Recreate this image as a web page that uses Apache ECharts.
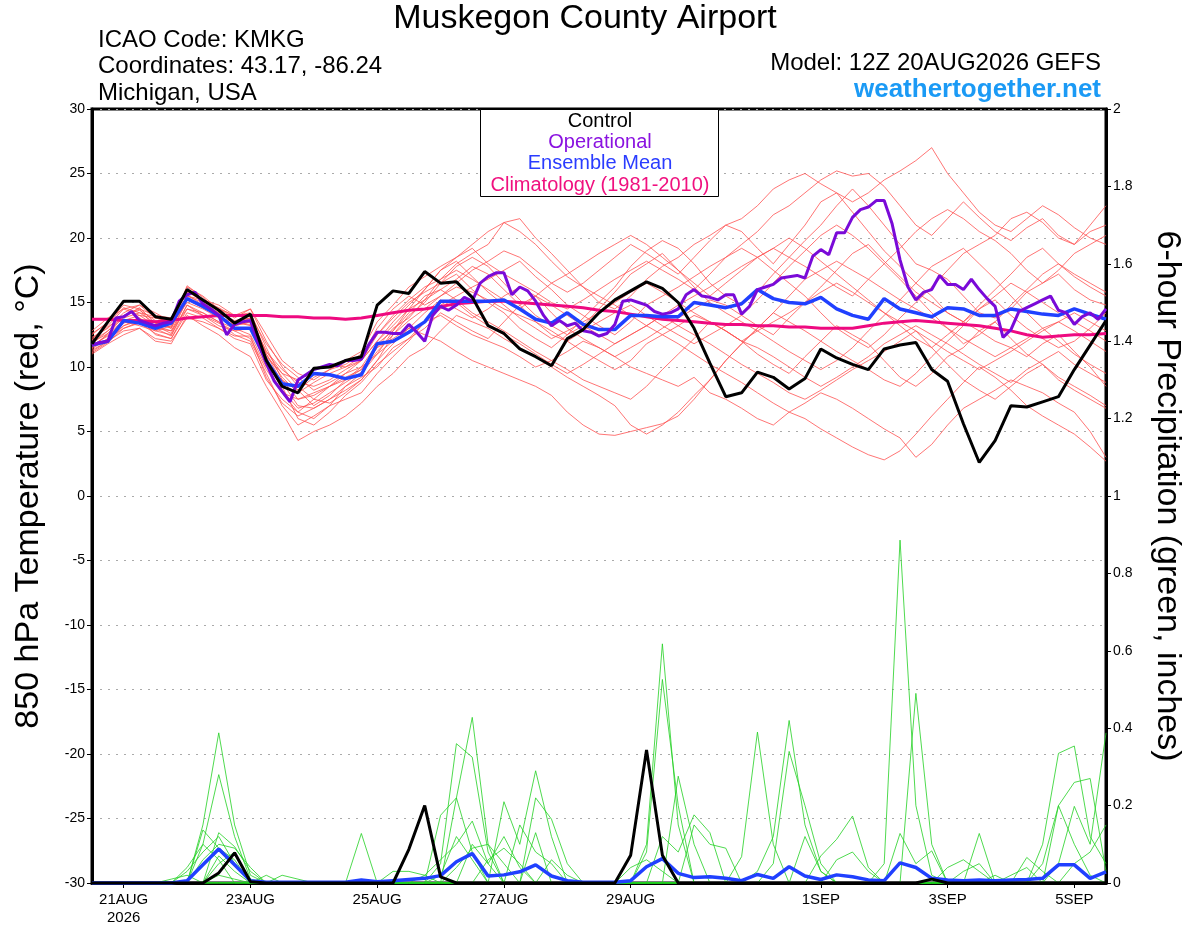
<!DOCTYPE html>
<html>
<head>
<meta charset="utf-8">
<title>Muskegon County Airport</title>
<script src="https://cdn.jsdelivr.net/npm/echarts@6.0.0/dist/echarts.min.js"></script>
<style>
  html, body { margin: 0; padding: 0; background: #fff; }
  #main { width: 1200px; height: 927px; }
</style>
</head>
<body>
<div id="main"></div>
<script>
// hours after 12Z 20AUG2026, one value every 6 h (operational every 3 h)
var tickHours = [12, 60, 108, 156, 204, 276, 324, 372];
var tickLabels = ['21AUG\n2026', '23AUG', '25AUG', '27AUG', '29AUG', '1SEP', '3SEP', '5SEP'];

// 850 hPa temperature, deg C
var controlTemp = [11.8,13.5,15.1,15.1,13.9,13.7,16.0,15.2,14.4,13.4,14.1,10.5,8.5,8.0,9.9,10.0,10.5,10.8,14.8,15.9,
  15.7,17.4,16.5,16.6,15.4,13.2,12.6,11.4,10.8,10.1,12.2,12.9,14.2,15.2,15.9,16.6,16.1,15.0,13.0,10.3,
  7.7,8.0,9.6,9.2,8.3,9.1,11.4,10.7,10.2,9.8,11.4,11.7,11.9,9.8,8.9,5.6,2.6,4.3,7.0,6.9,7.3,7.7,9.8,11.7,13.6];
var meanTemp = [11.7,12.0,13.6,13.4,13.0,13.4,15.3,14.7,14.0,13.0,13.0,10.5,8.7,8.5,9.5,9.4,9.1,9.4,11.8,12.0,
  12.7,13.5,15.1,15.1,15.1,15.1,15.2,14.5,13.7,13.4,14.2,13.3,12.9,12.9,14.0,14.0,13.9,13.9,15.0,14.8,
  14.6,14.9,16.0,15.3,15.0,14.9,15.4,14.5,14.0,13.7,15.3,14.5,14.2,13.9,14.6,14.5,14.0,14.0,14.5,14.3,14.1,14.0,14.5,14.1,13.7];
var climTemp = [13.7,13.7,13.6,13.6,13.5,13.6,13.8,13.9,14.0,14.0,14.0,14.0,13.9,13.9,13.8,13.8,13.7,13.8,14.0,14.2,
  14.4,14.5,14.7,14.9,15.0,15.1,15.1,15.0,14.9,14.8,14.7,14.6,14.4,14.3,14.1,13.9,13.7,13.6,13.5,13.4,
  13.3,13.3,13.2,13.2,13.1,13.1,13.0,13.0,13.0,13.2,13.4,13.5,13.6,13.5,13.4,13.3,13.2,13.0,12.8,12.5,12.3,12.4,12.5,12.5,12.6];
// operational run, 3-hourly
var operTemp = [11.7,11.9,12.0,13.8,13.9,14.3,13.6,13.4,13.2,13.4,13.5,15.1,15.6,15.8,14.9,14.5,14.0,12.5,13.3,13.5,
  13.6,11.8,10.3,8.9,8.1,7.3,9.0,9.4,9.8,10.0,10.2,10.1,10.5,10.5,10.6,11.8,12.7,12.7,12.6,12.6,
  13.3,12.7,12.0,14.0,14.7,14.4,14.8,15.4,15.1,16.5,17.0,17.3,17.3,15.6,16.2,15.9,15.1,14.0,13.2,13.6,
  13.2,13.4,12.8,12.7,12.4,12.6,13.3,15.1,15.2,15.0,14.8,14.3,14.1,14.2,14.5,15.6,16.0,15.5,15.4,15.2,
  15.6,15.6,14.1,14.7,16.0,16.2,16.4,16.9,17.0,17.1,16.9,18.6,19.1,18.7,20.4,20.4,21.6,22.2,22.4,22.9,
  22.9,21.1,18.3,16.2,15.2,15.8,16.0,17.1,16.4,16.4,16.0,16.8,16.0,15.3,14.7,12.3,12.9,14.3,14.6,14.9,
  15.2,15.5,14.4,14.2,13.3,13.9,14.2,13.7,14.5];

// ensemble members, temperature
var memberTemp = [
  [11.8,12.8,13.8,14.2,13.4,13.0,15.6,14.8,14.0,13.2,13.5,11.0,9.2,8.0,8.8,9.5,10.0,10.5,12.0,13.5,14.8,16.0,17.5,18.5,19.2,
   18.0,17.2,16.5,15.8,15.0,14.5,15.2,16.0,16.8,17.5,18.2,17.5,16.8,16.0,17.2,18.5,
   19.5,20.5,21.8,22.5,23.5,24.5,25.2,24.8,25.0,24.0,22.5,21.0,20.2,21.5,22.8,21.6,20.5,19.8,20.8,21.5,20.2,19.5,20.5,21.0],
  [11.5,12.2,13.0,13.5,12.8,12.5,14.8,14.2,13.5,12.5,12.0,9.5,7.0,5.5,6.2,7.0,7.5,8.0,9.5,10.8,12.0,13.5,14.0,13.2,12.5,
   12.0,11.5,10.8,10.0,10.5,11.2,12.0,11.5,10.8,10.0,9.5,9.0,8.5,9.2,8.0,7.5,
   6.8,6.0,5.5,6.5,7.2,8.0,7.5,6.8,6.0,5.2,4.5,3.0,4.0,5.5,6.8,7.5,8.2,9.0,8.5,8.0,7.2,6.5,5.0,3.0],
  [12.2,13.2,14.5,14.0,13.8,13.5,16.2,15.5,14.5,13.8,14.5,12.0,10.0,8.5,7.5,7.2,8.0,9.0,10.5,12.5,14.0,15.0,16.5,17.2,16.0,
   15.0,14.2,13.0,12.2,11.5,12.5,13.8,15.0,16.2,17.8,19.0,19.8,19.2,18.0,16.5,15.5,
   14.8,15.8,17.2,18.5,19.8,21.0,22.5,23.8,22.5,21.0,19.5,18.0,17.5,16.8,15.5,14.2,13.8,14.5,15.8,16.5,17.2,16.0,15.2,14.8],
  [11.2,12.0,13.2,13.8,12.5,12.2,14.5,14.0,13.2,12.8,13.0,10.8,9.5,9.0,9.8,10.2,10.0,10.8,13.0,14.5,15.5,14.8,15.5,16.2,15.8,
   15.2,14.5,14.0,13.5,12.8,12.0,11.2,10.5,9.8,10.5,11.8,12.5,13.2,14.0,13.5,12.8,
   12.0,11.0,10.2,9.5,10.8,12.0,13.2,12.5,11.8,10.5,9.2,8.5,9.5,10.8,11.5,12.8,13.5,12.2,11.0,10.2,9.0,8.2,7.5,6.8],
  [11.0,11.8,12.5,13.0,12.0,11.8,14.0,13.2,12.5,11.5,10.8,8.5,6.5,4.3,5.0,5.5,6.2,7.2,8.5,9.5,10.8,11.5,12.8,14.0,13.5,
   13.0,12.2,11.5,10.8,10.0,9.2,8.5,7.8,7.0,5.5,4.8,5.5,6.5,7.8,9.0,10.5,
   11.8,13.0,14.2,13.5,12.8,12.0,11.2,10.5,9.8,9.0,8.5,9.5,10.8,12.0,13.2,14.5,15.2,14.0,13.0,12.2,11.5,12.0,13.0,14.2],
  [12.5,13.5,14.8,14.5,14.0,13.8,16.0,15.2,14.8,14.0,14.2,11.5,9.0,7.5,7.8,8.5,9.2,9.8,11.5,13.0,13.8,15.2,16.8,18.0,18.8,
   19.5,21.2,21.5,20.0,18.8,17.5,16.2,15.0,14.5,15.5,16.8,17.8,18.5,19.5,20.2,21.0,
   20.5,19.2,18.0,19.5,21.0,22.8,23.5,22.0,20.5,19.0,17.8,16.5,15.5,14.2,13.5,12.8,12.0,11.5,10.8,11.8,12.5,11.2,10.0,8.5],
  [11.6,12.5,13.5,13.2,12.8,13.2,15.0,14.5,13.8,13.5,13.8,11.0,8.8,7.0,6.8,7.5,8.5,9.5,11.0,12.0,12.8,13.5,14.8,15.5,16.2,
   16.8,17.5,18.2,17.0,16.0,14.8,14.0,13.2,12.5,13.5,14.8,15.5,16.2,17.0,17.8,18.5,
   19.2,18.5,17.5,16.5,15.5,14.2,13.0,12.2,11.5,12.5,13.8,15.0,16.2,17.5,18.8,19.5,20.2,21.5,22.0,21.2,20.0,19.5,21.0,22.5],
  [12.0,12.8,14.0,14.5,13.0,12.8,15.2,14.8,14.2,13.5,13.2,10.5,8.5,6.0,5.5,6.5,7.8,8.8,10.2,11.2,12.2,13.0,14.2,13.5,12.8,
   12.2,13.5,14.8,15.5,14.2,13.0,12.2,11.5,10.8,11.5,12.2,13.0,13.8,14.5,15.2,14.8,
   14.0,13.2,12.5,13.8,15.0,16.2,17.5,18.8,19.5,18.2,17.0,15.8,15.0,14.2,13.5,14.8,16.0,17.2,18.5,19.2,18.0,17.0,16.2,15.5],
  [11.4,12.2,13.2,13.6,13.2,12.8,14.5,14.2,13.5,13.0,12.5,10.0,9.0,8.2,9.2,9.8,10.2,11.0,12.5,13.8,15.0,15.8,16.5,17.8,18.5,
   17.8,16.5,15.2,14.0,13.2,12.5,13.2,14.5,15.8,17.2,18.0,18.8,17.5,16.2,15.0,14.2,
   13.5,12.8,12.0,11.2,10.5,9.8,10.5,11.5,12.8,14.0,15.2,16.5,17.8,18.5,19.2,18.0,16.8,15.5,14.2,13.0,12.0,11.0,10.2,9.5],
  [12.8,13.8,14.5,14.8,14.2,13.5,15.5,15.2,14.5,13.2,13.8,11.2,9.5,8.2,7.0,7.8,9.0,10.0,11.8,12.8,14.2,15.5,16.0,15.2,14.2,
   13.5,12.8,12.0,11.2,10.5,9.8,9.0,8.5,8.0,7.5,8.5,9.8,11.0,12.2,13.5,12.8,
   12.0,11.5,10.8,10.0,9.2,8.5,9.2,10.0,10.8,11.8,12.5,13.2,12.5,11.8,11.0,10.2,9.5,8.8,9.8,10.5,11.2,10.2,9.5,8.8],
  [11.9,12.6,13.6,14.0,13.2,12.6,15.2,14.6,14.0,13.2,13.5,10.8,8.2,6.8,7.2,8.0,8.8,9.6,11.2,12.5,13.6,14.5,15.5,16.5,17.5,
   18.2,19.0,18.5,17.5,16.5,15.8,16.5,17.5,18.5,19.5,18.8,18.0,17.2,18.5,19.8,21.0,
   21.5,22.5,23.8,24.5,25.0,24.2,23.5,22.8,23.5,24.5,25.2,26.0,27.0,25.0,23.5,22.0,21.0,20.5,21.5,22.5,21.8,20.8,20.0,19.5],
  [11.3,12.0,12.8,13.0,12.2,12.0,13.8,13.5,13.0,12.2,11.8,9.0,7.5,6.5,6.0,7.0,8.5,9.2,10.0,11.5,12.2,13.5,14.5,15.0,14.0,
   13.2,12.5,11.8,11.0,10.2,9.5,10.2,11.0,11.8,12.5,13.2,14.0,13.2,12.5,11.8,11.0,
   10.2,9.5,8.8,8.0,7.5,8.2,9.0,9.8,10.5,11.2,12.0,12.8,11.5,10.2,9.0,8.2,7.5,8.5,9.5,10.2,9.2,8.5,7.8,7.0],
  [12.3,13.0,14.2,14.8,13.8,13.5,15.8,15.2,14.5,14.0,14.5,12.5,10.5,9.5,9.0,9.8,10.5,11.2,13.5,14.8,16.2,17.0,17.8,18.5,19.5,
   20.5,21.2,20.5,19.5,18.2,17.0,16.2,15.5,14.8,14.0,13.2,12.5,11.8,11.0,10.2,9.5,
   8.8,8.0,7.2,6.5,6.0,5.2,4.5,3.8,3.2,2.8,3.5,4.8,6.2,7.5,8.8,10.0,9.2,8.2,7.0,6.2,5.5,4.8,3.8,2.7],
  [11.7,12.4,13.4,13.8,13.0,12.4,14.8,14.0,13.4,12.8,12.2,9.8,8.0,7.5,8.0,8.5,9.0,9.8,11.5,12.2,13.0,12.5,12.0,11.2,10.5,
   10.0,9.5,9.0,8.5,7.8,6.5,5.5,4.8,4.7,5.0,5.3,5.6,6.2,7.5,9.0,10.5,
   11.8,13.0,14.2,15.5,16.8,17.5,18.2,17.5,16.8,16.0,15.2,14.5,13.8,13.0,12.2,11.5,10.8,11.5,12.2,13.0,13.5,12.8,12.0,11.2],
  [12.1,13.1,14.0,14.4,13.6,13.0,15.5,15.0,14.2,13.6,13.8,11.2,9.8,8.8,8.5,9.0,9.8,10.5,12.5,14.0,15.2,16.2,16.8,17.5,16.8,
   16.0,15.2,14.5,15.5,16.5,17.2,18.0,18.8,19.5,20.2,19.5,18.5,17.5,16.5,15.5,16.5,
   17.5,18.5,19.2,18.5,17.8,17.0,16.2,15.5,16.8,18.0,19.2,20.5,21.5,22.2,21.5,20.5,19.8,18.8,17.5,16.5,17.5,18.8,19.5,20.2],
  [11.5,12.6,13.9,14.6,13.4,13.1,16.3,15.4,14.3,13.4,13.3,10.2,8.0,6.5,7.5,8.5,9.5,10.5,12.0,13.2,14.5,15.2,16.0,16.8,17.8,
   17.2,16.0,14.8,13.5,12.5,12.0,12.8,13.5,14.2,14.8,14.0,13.2,12.5,11.8,12.5,13.2,
   14.0,15.2,16.5,17.8,19.0,20.2,21.0,20.2,19.2,18.0,16.8,15.5,14.2,13.0,11.8,12.5,13.5,14.8,16.0,17.2,18.0,17.2,16.5,15.8],
  [12.6,13.4,14.6,14.2,13.9,13.6,15.9,15.1,14.6,13.9,14.0,11.8,10.2,9.2,8.2,8.8,9.5,10.0,11.0,12.8,14.5,16.0,17.5,18.2,17.0,
   15.8,14.8,13.8,13.0,12.2,12.8,13.5,14.2,15.0,15.8,16.5,15.8,15.0,14.2,13.5,12.8,
   12.0,12.8,13.5,14.2,15.0,15.8,16.5,15.8,15.0,14.2,13.5,12.8,12.0,11.2,10.5,9.8,10.5,11.2,12.0,12.8,13.5,14.2,13.5,12.8],
  [11.1,11.9,13.0,13.4,12.6,12.2,14.2,13.8,13.0,12.4,12.4,9.2,7.2,6.2,6.8,7.5,8.2,9.0,10.5,11.8,13.0,14.2,15.2,14.5,13.8,
   14.5,15.5,16.2,15.5,14.8,14.0,13.2,12.5,11.8,12.5,13.2,14.0,14.8,15.5,16.2,17.0,
   17.8,18.5,19.2,20.0,19.2,18.2,17.2,16.2,15.2,14.2,13.2,12.2,11.5,12.5,13.5,14.5,15.5,16.5,15.8,15.0,14.2,13.5,12.8,12.0]
];

// 6-hour precipitation, inches
var controlPrecip = [0,0,0,0,0,0,0,0,.026,.078, .003,0,0,0,0,0,0,0,0,0, .087,.2,.016,0,0,0,0,0,0,0,
  0,0,0,0,.072,.344,.072,0,0,0, 0,0,0,0,0,0,0,0,0,0, 0,0,0,.01,0,0,0,0,0,0, 0,0,0,0,0];
var meanPrecip = [0,0,0,0,0,0,.006,.047,.088,.047, .006,.002,.002,.002,.002,.002,.002,.008,.003,.006,
  .009,.012,.019,.055,.076,.018,.021,.029,.047,.018, .006,.002,.002,.002,.006,.042,.063,.025,.014,.016,
  .012,.006,.022,.012,.042,.018,.009,.021,.016,.008, .006,.052,.04,.012,.008,.006,.008,.006,.008,.009,
  .012,.047,.047,.012,.029];
var memberPrecip = [
  [0,0,0,0,0,0,0,.15,.388,.15, .02,0,0,0,0,0,0,0,0,0, 0,0,0,.22,.428,.1,.05,0,0,0, 0,0,0,0,0,0,0,0,0,0,
   0,0,0,0,0,.12,.03,0,0,0, 0,0,0,0,0,0,0,0,0,0, 0,0,0,0,0],
  [0,0,0,0,0,0,0,.1,.28,.12, .01,0,0,0,0,0,0,0,0,0, 0,0,.05,.36,.325,.08,0,0,0,0, 0,0,0,0,0,0,0,0,0,0,
   0,0,0,0,0,0,.07,.113,.173,.04, 0,0,0,0,0,0,0,0,0,0, 0,0,0,0,0],
  [0,0,0,0,0,0,0,.137,.09,.06, 0,0,0,0,0,0,0,0,0,0, 0,0,0,0,0,0,.21,.1,.29,.12, 0,0,0,0,0,0,0,0,0,0,
   0,0,0,0,0,0,0,0,0,0, .05,.886,.2,.02,0,0,0,0,0,0, 0,0,0,0,0],
  [0,0,0,0,0,0,0,0,.13,.094, .03,0,0,0,0,0,0,0,0,0, 0,0,0,0,0,0,0,0,.22,.165, .05,0,0,0,0,0,0,0,0,0,
   0,0,0,0,0,0,0,0,0,0, 0,0,.49,.1,0,0,0,0,0,0, 0,0,0,0,0],
  [0,0,0,0,0,0,.03,.08,.12,.05, 0,0,0,0,0,0,0,0,0,0, 0,0,.175,.22,.08,0,0,0,0,0, 0,0,0,0,0,0,0,0,0,0,
   0,0,0,0,0,0,0,0,0,0, 0,.128,.05,.083,0,0,0,0,0,0, 0,0,0,0,0],
  [0,0,0,0,0,0,0,.06,.1,.09, .04,0,0,0,0,0,0,0,0,0, 0,.02,.06,.1,.16,.05,0,0,0,0, 0,0,0,0,0,0,0,0,0,0,
   0,0,0,0,0,0,0,0,0,0, 0,0,0,0,0,0,.128,0,0,0, 0,0,0,0,0],
  [0,0,0,0,0,.01,.02,0,.07,.03, 0,0,0,0,0,0,0,0,0,0, 0,0,0,0,.1,.05,.12,.04,0,0, 0,0,0,0,0,0,0,0,0,0,
   0,0,0,0,0,0,0,0,0,0, 0,0,0,0,0,.03,.05,0,0,0, 0,0,0,0,0],
  [0,0,0,0,0,0,0,0,.05,.08, 0,.02,0,0,0,0,0,0,0,0, 0,0,0,0,0,0,0,0,0,0, 0,0,0,0,0,.1,.618,.15,0,0,
   0,0,0,0,0,0,0,0,0,0, 0,0,0,0,0,0,0,0,0,.066, .03,0,0,0,0],
  [0,0,0,0,0,0,.04,.1,.06,0, 0,0,0,0,0,0,0,0,0,0, 0,0,0,0,0,0,0,0,0,0, 0,0,0,0,0,.08,.526,.2,0,0,
   0,0,0,0,0,0,0,0,0,0, 0,0,0,0,0,0,0,0,0,0, .1,.335,.354,.12,.05],
  [0,0,0,0,0,0,0,0,0,0, 0,0,0,0,0,0,0,.128,0,0, 0,0,0,0,0,0,0,0,0,0, 0,0,0,0,0,0,0,.276,.1,0,
   0,0,0,0,0,0,0,0,0,0, 0,0,0,0,0,0,0,0,0,0, 0,.2,.26,.27,.03],
  [0,0,0,0,0,0,0,0,0,0, 0,0,0,0,0,0,0,0,0,.03, .03,.02,0,0,0,0,0,0,0,0, 0,0,0,0,0,0,.12,.08,.176,.13,
   0,0,0,0,0,0,0,0,0,0, 0,0,0,0,0,0,0,0,0,0, 0,.05,.198,.1,.388],
  [0,0,0,0,0,0,0,0,0,0, 0,0,0,0,0,0,0,0,0,0, 0,0,0,0,0,0,0,.15,.08,.05, 0,0,0,0,0,0,0,0,.15,.1,
   .09,0,0,0,0,0,0,0,0,0, 0,0,0,0,0,0,0,0,0,0, .05,.2,.1,.02,0],
  [0,0,0,0,0,0,0,0,0,0, 0,0,0,0,0,0,0,0,0,0, 0,0,0,0,0,.06,.09,.05,0,0, 0,0,0,0,0,0,0,0,0,0,
   0,.068,.39,.1,0,0,0,0,0,0, 0,0,0,0,0,0,0,0,0,0, 0,0,.05,.08,.15],
  [0,0,0,0,0,0,0,0,0,0, 0,0,0,0,0,0,0,0,0,0, 0,0,.02,.12,.06,0,0,0,0,0, 0,0,0,0,0,0,0,0,0,0,
   0,0,.03,.12,.42,.15,.03,0,0,0, 0,0,0,0,0,0,0,0,.02,.04, 0,0,0,0,0],
  [0,0,0,0,0,0,0,0,.02,.01, 0,0,0,0,0,0,0,0,0,0, 0,0,0,0,0,0,0,0,0,.06, .02,0,0,0,0,0,0,0,0,0,
   0,0,0,.05,.34,.2,.05,0,0,0, 0,0,0,0,0,0,0,.02,0,0, 0,0,0,0,0],
  [0,0,0,0,0,0,0,0,0,0, 0,0,.02,.01,0,0,0,0,0,0, 0,0,0,.04,.09,.1,0,0,.13,0, 0,0,0,0,.04,.06,.03,0,0,0,
   0,0,0,0,0,0,0,.06,.08,.03, 0,0,0,0,.04,.06,.03,0,0,0, 0,0,0,0,0]
];

var FONT = '"Liberation Sans", Arial, Helvetica, sans-serif';

function pairs(arr, step) {
  return arr.map(function (v, i) { return [i * step, v]; });
}

function lineSeries(arr, step, color, width, axis, z) {
  return {
    type: 'line',
    data: pairs(arr, step),
    yAxisIndex: axis,
    symbol: 'none',
    silent: true,
    z: z,
    lineStyle: { color: color, width: width },
    emphasis: { disabled: true }
  };
}

var series = [];
memberTemp.forEach(function (m) { series.push(lineSeries(m, 6, '#ff5252', 0.8, 0, 2)); });
memberPrecip.forEach(function (m) { series.push(lineSeries(m, 6, '#22d022', 0.8, 1, 2)); });
series.push(lineSeries(climTemp, 6, '#ee0a80', 3, 0, 5));
series.push(lineSeries(meanTemp, 6, '#2040ff', 3.5, 0, 6));
series.push(lineSeries(operTemp, 3, '#7a0ad8', 3, 0, 7));
series.push(lineSeries(controlTemp, 6, '#000000', 3, 0, 8));
series.push(lineSeries(meanPrecip, 6, '#2040ff', 3.5, 1, 6));
series.push(lineSeries(controlPrecip, 6, '#000000', 3, 1, 8));

function txt(x, y, s, size, color, align, weight) {
  return {
    type: 'text', x: x, y: y, z: 120,
    style: {
      text: s, fill: color, fontSize: size, fontFamily: FONT, fontWeight: weight || 'normal',
      textAlign: align, textVerticalAlign: 'middle'
    }
  };
}

var chart = echarts.init(document.getElementById('main'));
chart.setOption({
  animation: false,
  backgroundColor: '#fff',
  grid: { left: 92, right: 94, top: 109, bottom: 44, show: true, borderColor: '#000', borderWidth: 3, backgroundColor: '#fff' },
  xAxis: {
    type: 'value', min: 0, max: 384,
    axisLine: { show: true, onZero: false, lineStyle: { color: '#000', width: 3 } },
    axisTick: { show: true, customValues: tickHours, length: 5, lineStyle: { color: '#000', width: 1 } },
    axisLabel: {
      customValues: tickHours, color: '#000', fontSize: 15, fontFamily: FONT, margin: 8, lineHeight: 18,
      formatter: function (v) { var k = tickHours.indexOf(v); return k < 0 ? '' : tickLabels[k]; }
    },
    splitLine: { show: false }
  },
  yAxis: [{
    type: 'value', min: -30, max: 30, interval: 5, position: 'left',
    axisLine: { show: true, lineStyle: { color: '#000', width: 3 } },
    axisTick: { show: true, length: 5, lineStyle: { color: '#000', width: 1 } },
    axisLabel: { color: '#000', fontSize: 14, fontFamily: FONT, margin: 7 },
    splitLine: { show: true, lineStyle: { color: '#aaaaaa', width: 1, type: [2, 6] } },
    name: '850 hPa Temperature (red, °C)', nameLocation: 'middle', nameGap: 46,
    nameTextStyle: { color: '#000', fontSize: 34, fontFamily: FONT }
  }, {
    type: 'value', min: 0, max: 2, interval: 0.2, position: 'right',
    axisLine: { show: true, lineStyle: { color: '#000', width: 3 } },
    axisTick: { show: true, length: 5, lineStyle: { color: '#000', width: 1 } },
    axisLabel: { color: '#000', fontSize: 14, fontFamily: FONT, margin: 7 },
    splitLine: { show: false },
    name: '6-hour Precipitation (green, inches)', nameLocation: 'middle', nameGap: 44, nameRotate: -90,
    nameTextStyle: { color: '#000', fontSize: 34, fontFamily: FONT }
  }],
  graphic: [
    txt(585, 19, 'Muskegon County Airport', 34, '#000', 'center'),
    txt(98, 40, 'ICAO Code: KMKG', 24, '#000', 'left'),
    txt(98, 66, 'Coordinates: 43.17, -86.24', 24, '#000', 'left'),
    txt(98, 93, 'Michigan, USA', 24, '#000', 'left'),
    txt(1101, 63, 'Model: 12Z 20AUG2026 GEFS', 24, '#000', 'right'),
    txt(1101, 90, 'weathertogether.net', 26, '#1b9af5', 'right', 'bold'),
    {
      type: 'rect', z: 110,
      shape: { x: 480.5, y: 109.5, width: 238, height: 87 },
      style: { fill: '#fff', stroke: '#000', lineWidth: 1 }
    },
    txt(600, 121, 'Control', 20, '#000', 'center'),
    txt(600, 142, 'Operational', 20, '#8a12e0', 'center'),
    txt(600, 163, 'Ensemble Mean', 20, '#2a3cff', 'center'),
    txt(600, 185, 'Climatology (1981-2010)', 20, '#f0107f', 'center')
  ],
  series: series
});
</script>
</body>
</html>
